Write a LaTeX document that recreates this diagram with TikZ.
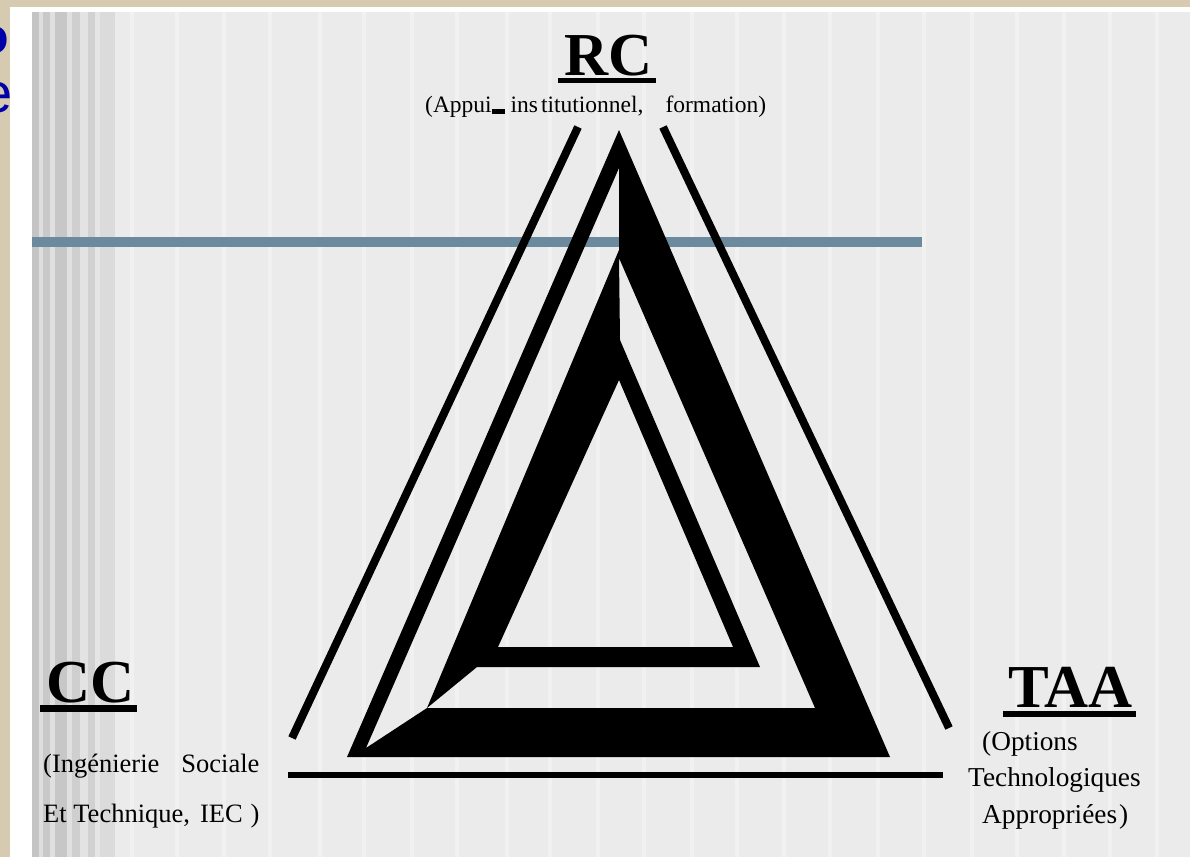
\documentclass[tikz,border=0pt]{standalone}
\usepackage{fontspec}
\setmainfont{Liberation Serif}
\newfontfamily\sansf{Liberation Sans}
\usetikzlibrary{calc}
\definecolor{beige}{RGB}{214,203,176}
\definecolor{panel}{RGB}{235,235,235}
\definecolor{panelhi}{RGB}{241,241,241}
\definecolor{bandblue}{RGB}{108,138,158}
\definecolor{titleblue}{RGB}{0,0,170}
\tikzset{
  bigtxt/.style={inner sep=0pt, anchor=base west, font=\fontsize{61}{61}\selectfont\bfseries},
  subtxt/.style={inner sep=0pt, anchor=base west, font=\fontsize{26.5}{26.5}\selectfont},
  taatxt/.style={inner sep=0pt, anchor=base west, font=\fontsize{27.3}{27.3}\selectfont},
  rctxt/.style={inner sep=0pt, anchor=base west, font=\fontsize{23.5}{23.5}\selectfont},
  thinline/.style={line width=8pt},
  baseline/.style={line width=6pt},
}
\begin{document}
\begin{tikzpicture}[x=1pt,y=-1pt]
\useasboundingbox (0,0) rectangle (1190,857);
\clip (0,0) rectangle (1190,857);
% slide background
\fill[beige] (0,0) rectangle (1190,857);
\fill[white] (10,7) rectangle (1190,857);
\fill[panel] (32,12) rectangle (1190,857);
% faint texture stripes
\foreach \xx in {130,175,222,268,318,362,410,455,505,548,596,642,690,735,782,828,876,922,970,1015,1062,1108,1155}{
  \fill[panelhi] (\xx,12) rectangle (\xx+4,857);
}
% grey striped column
\fill[black!23] (32,12) rectangle (39,857);
\fill[black!13] (39,12) rectangle (43,857);
\fill[black!21] (43,12) rectangle (50,857);
\fill[black!12] (50,12) rectangle (55,857);
\fill[black!22] (55,12) rectangle (67,857);
\fill[black!12] (67,12) rectangle (72,857);
\fill[black!19] (72,12) rectangle (80,857);
\fill[black!11] (80,12) rectangle (88,857);
\fill[black!18] (88,12) rectangle (95,857);
\fill[black!10] (95,12) rectangle (100,857);
\fill[black!14] (100,12) rectangle (115,857);
% cut-off title letters (cut off by the slide edge, as in the reference)
\node[inner sep=0pt, anchor=base west, text=titleblue, font=\sansf\bfseries\fontsize{50}{50}\selectfont] (tl1) at (-21.5,53) {o};
\node[inner sep=0pt, anchor=base west, text=titleblue, font=\sansf\fontsize{56}{56}\selectfont] (tl2) at (-18.6,112) {e};
% horizontal band
\fill[bandblue] (32,236.5) rectangle (922,247);
% triangle figure
\fill[black, even odd rule]
  (619,130) -- (347,757) -- (890,757) -- cycle
  (619,168) -- (619,250) -- (427,708) -- (366,748) -- cycle
  (427,708) -- (477,667) -- (760,667) -- (620,340) -- (619,258) -- (815,708) -- cycle
  (619,380) -- (498,647) -- (733,647) -- cycle;
% thin outer lines
\draw[thinline] (578,127) -- (292,738);
\draw[thinline] (663,127) -- (949,728);
\draw[baseline] (288,775) -- (943,775);
% labels
\node[bigtxt] (rc) at (564,75) {RC};
\fill ($(rc.base west)+(-6,3)$) rectangle ($(rc.base east)+(3,8)$);
\node[rctxt] (rcsub) at (425,112) {(Appui\rule[-1.8pt]{13pt}{4.5pt} ins\kern3pt titutionnel,\hspace{22pt}formation)};
\node[bigtxt] (cc) at (46,702) {CC};
\fill ($(cc.base west)+(-6,3)$) rectangle ($(cc.base east)+(2,10)$);
\node[subtxt] (ccs1) at (43,772) {(Ingénierie\hspace{22pt}Sociale};
\node[subtxt] (ccs2) at (43,822) {Et Technique,\hspace{10pt}IEC\hspace{8pt})};
\node[bigtxt] (taa) at (1008,707) {TAA};
\fill ($(taa.base west)+(-5,4)$) rectangle ($(taa.base east)+(3,10)$);
\node[taatxt] (taa1) at (982,750) {(Options};
\node[taatxt] (taa2) at (968,786) {Technologiques};
\node[taatxt] (taa3) at (982,823) {Appropriées\kern2pt)};
\end{tikzpicture}
\end{document}
